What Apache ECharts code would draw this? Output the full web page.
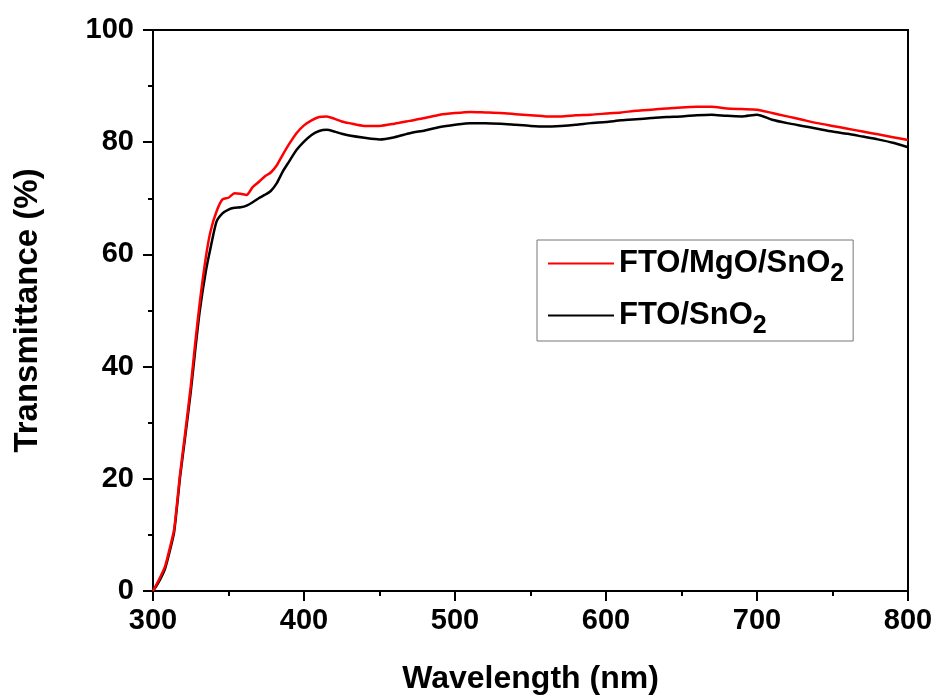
<!DOCTYPE html>
<html>
<head>
<meta charset="utf-8">
<script src="https://cdn.jsdelivr.net/npm/echarts@6/dist/echarts.min.js"></script>
<style>html,body{margin:0;padding:0;background:#fff}#c{width:939px;height:700px}</style>
</head>
<body>
<div id="c"></div>
<script>
const wavelengths = [300,302,305,308,311,314,318,321,325,328,331,335,338,342,346,350,354,358,362,366,370,374,378,382,386,390,395,400,405,410,415,420,425,430,440,450,460,470,480,490,500,510,520,530,540,550,560,570,580,590,600,610,620,630,640,650,660,670,680,690,700,710,720,730,740,750,760,770,780,790,800];
const mgoValues = [0,1.0,2.6,4.4,7.5,11,21,27.5,36.5,44.3,51.5,59.5,64,67.6,69.8,70.1,70.9,70.8,70.6,72,72.9,73.9,74.6,75.9,77.8,79.6,81.6,83,83.9,84.5,84.6,84.2,83.7,83.4,82.9,82.9,83.3,83.8,84.3,84.9,85.2,85.4,85.3,85.2,85,84.8,84.6,84.6,84.8,84.9,85.1,85.3,85.6,85.8,86,86.2,86.3,86.3,86,85.9,85.8,85.2,84.6,84,83.4,82.9,82.4,81.9,81.4,80.9,80.4];
const snoValues = [0,0.8,2.2,4,7,10.5,20.5,26.8,35.5,43,50,57,61,65.8,67.3,68,68.3,68.4,68.7,69.3,70,70.6,71.3,72.7,74.8,76.5,78.6,80.1,81.3,82,82.2,81.9,81.5,81.2,80.8,80.5,80.9,81.6,82.1,82.7,83.1,83.4,83.4,83.3,83.1,82.9,82.8,82.9,83.1,83.4,83.6,83.9,84.1,84.3,84.5,84.6,84.8,84.9,84.7,84.6,84.9,84,83.4,82.9,82.4,81.9,81.5,81,80.5,79.9,79.1];
const seriesNames = ['FTO/MgO/SnO2','FTO/SnO2'];
const legendMain = {'FTO/MgO/SnO2':'FTO/MgO/SnO','FTO/SnO2':'FTO/SnO'};
const xTitle = 'Wavelength (nm)';
const yTitle = 'Transmittance (%)';

const font = '"Liberation Sans", Arial, sans-serif';
const chart = echarts.init(document.getElementById('c'));
const pair = (xs, ys) => xs.map((x, i) => [x, ys[i]]);
const axisCommon = {
  axisLine: {show: true, onZero: false, lineStyle: {color: '#000', width: 2}},
  axisTick: {show: true, inside: false, length: 10, lineStyle: {color: '#000', width: 2}},
  minorTick: {show: true, splitNumber: 2, length: 5, lineStyle: {color: '#000', width: 2}},
  splitLine: {show: false}
};
chart.setOption({
  backgroundColor: '#fff',
  animation: false,
  grid: {left: 153, right: 31, top: 30, bottom: 109, show: true, borderColor: '#000', borderWidth: 2, backgroundColor: 'transparent'},
  xAxis: Object.assign({
    type: 'value', min: 300, max: 800, interval: 100,
    name: xTitle, nameLocation: 'middle', nameGap: 72,
    nameTextStyle: {fontFamily: font, fontWeight: 'bold', fontSize: 32, color: '#000'},
    axisLabel: {fontFamily: font, fontWeight: 'bold', fontSize: 29, color: '#000', margin: 15}
  }, axisCommon),
  yAxis: Object.assign({
    type: 'value', min: 0, max: 100, interval: 20,
    name: yTitle, nameLocation: 'middle', nameGap: 109,
    nameTextStyle: {fontFamily: font, fontWeight: 'bold', fontSize: 33, color: '#000'},
    axisLabel: {fontFamily: font, fontWeight: 'bold', fontSize: 29, color: '#000', margin: 19}
  }, axisCommon),
  legend: {
    orient: 'vertical', left: 537, top: 240,
    borderColor: '#777', borderWidth: 1, padding: [0, 9, 2, 11],
    icon: 'rect', itemWidth: 66, itemHeight: 2, itemGap: 5,
    data: seriesNames,
    formatter: n => '{a|' + legendMain[n] + '}{s|2}',
    textStyle: {
      color: '#000',
      rich: {
        a: {fontFamily: font, fontWeight: 'bold', fontSize: 31, color: '#000', lineHeight: 40},
        s: {fontFamily: font, fontWeight: 'bold', fontSize: 25, color: '#000', lineHeight: 18, padding: [22, 0, 0, 0]}
      }
    }
  },
  series: [
    {name: seriesNames[0], type: 'line', data: pair(wavelengths, mgoValues), symbol: 'none', smooth: 0.2,
     lineStyle: {color: '#ff0000', width: 2.5}, itemStyle: {color: '#ff0000'}, z: 3},
    {name: seriesNames[1], type: 'line', data: pair(wavelengths, snoValues), symbol: 'none', smooth: 0.2,
     lineStyle: {color: '#000', width: 2.5}, itemStyle: {color: '#000'}, z: 2}
  ]
});
</script>
</body>
</html>
